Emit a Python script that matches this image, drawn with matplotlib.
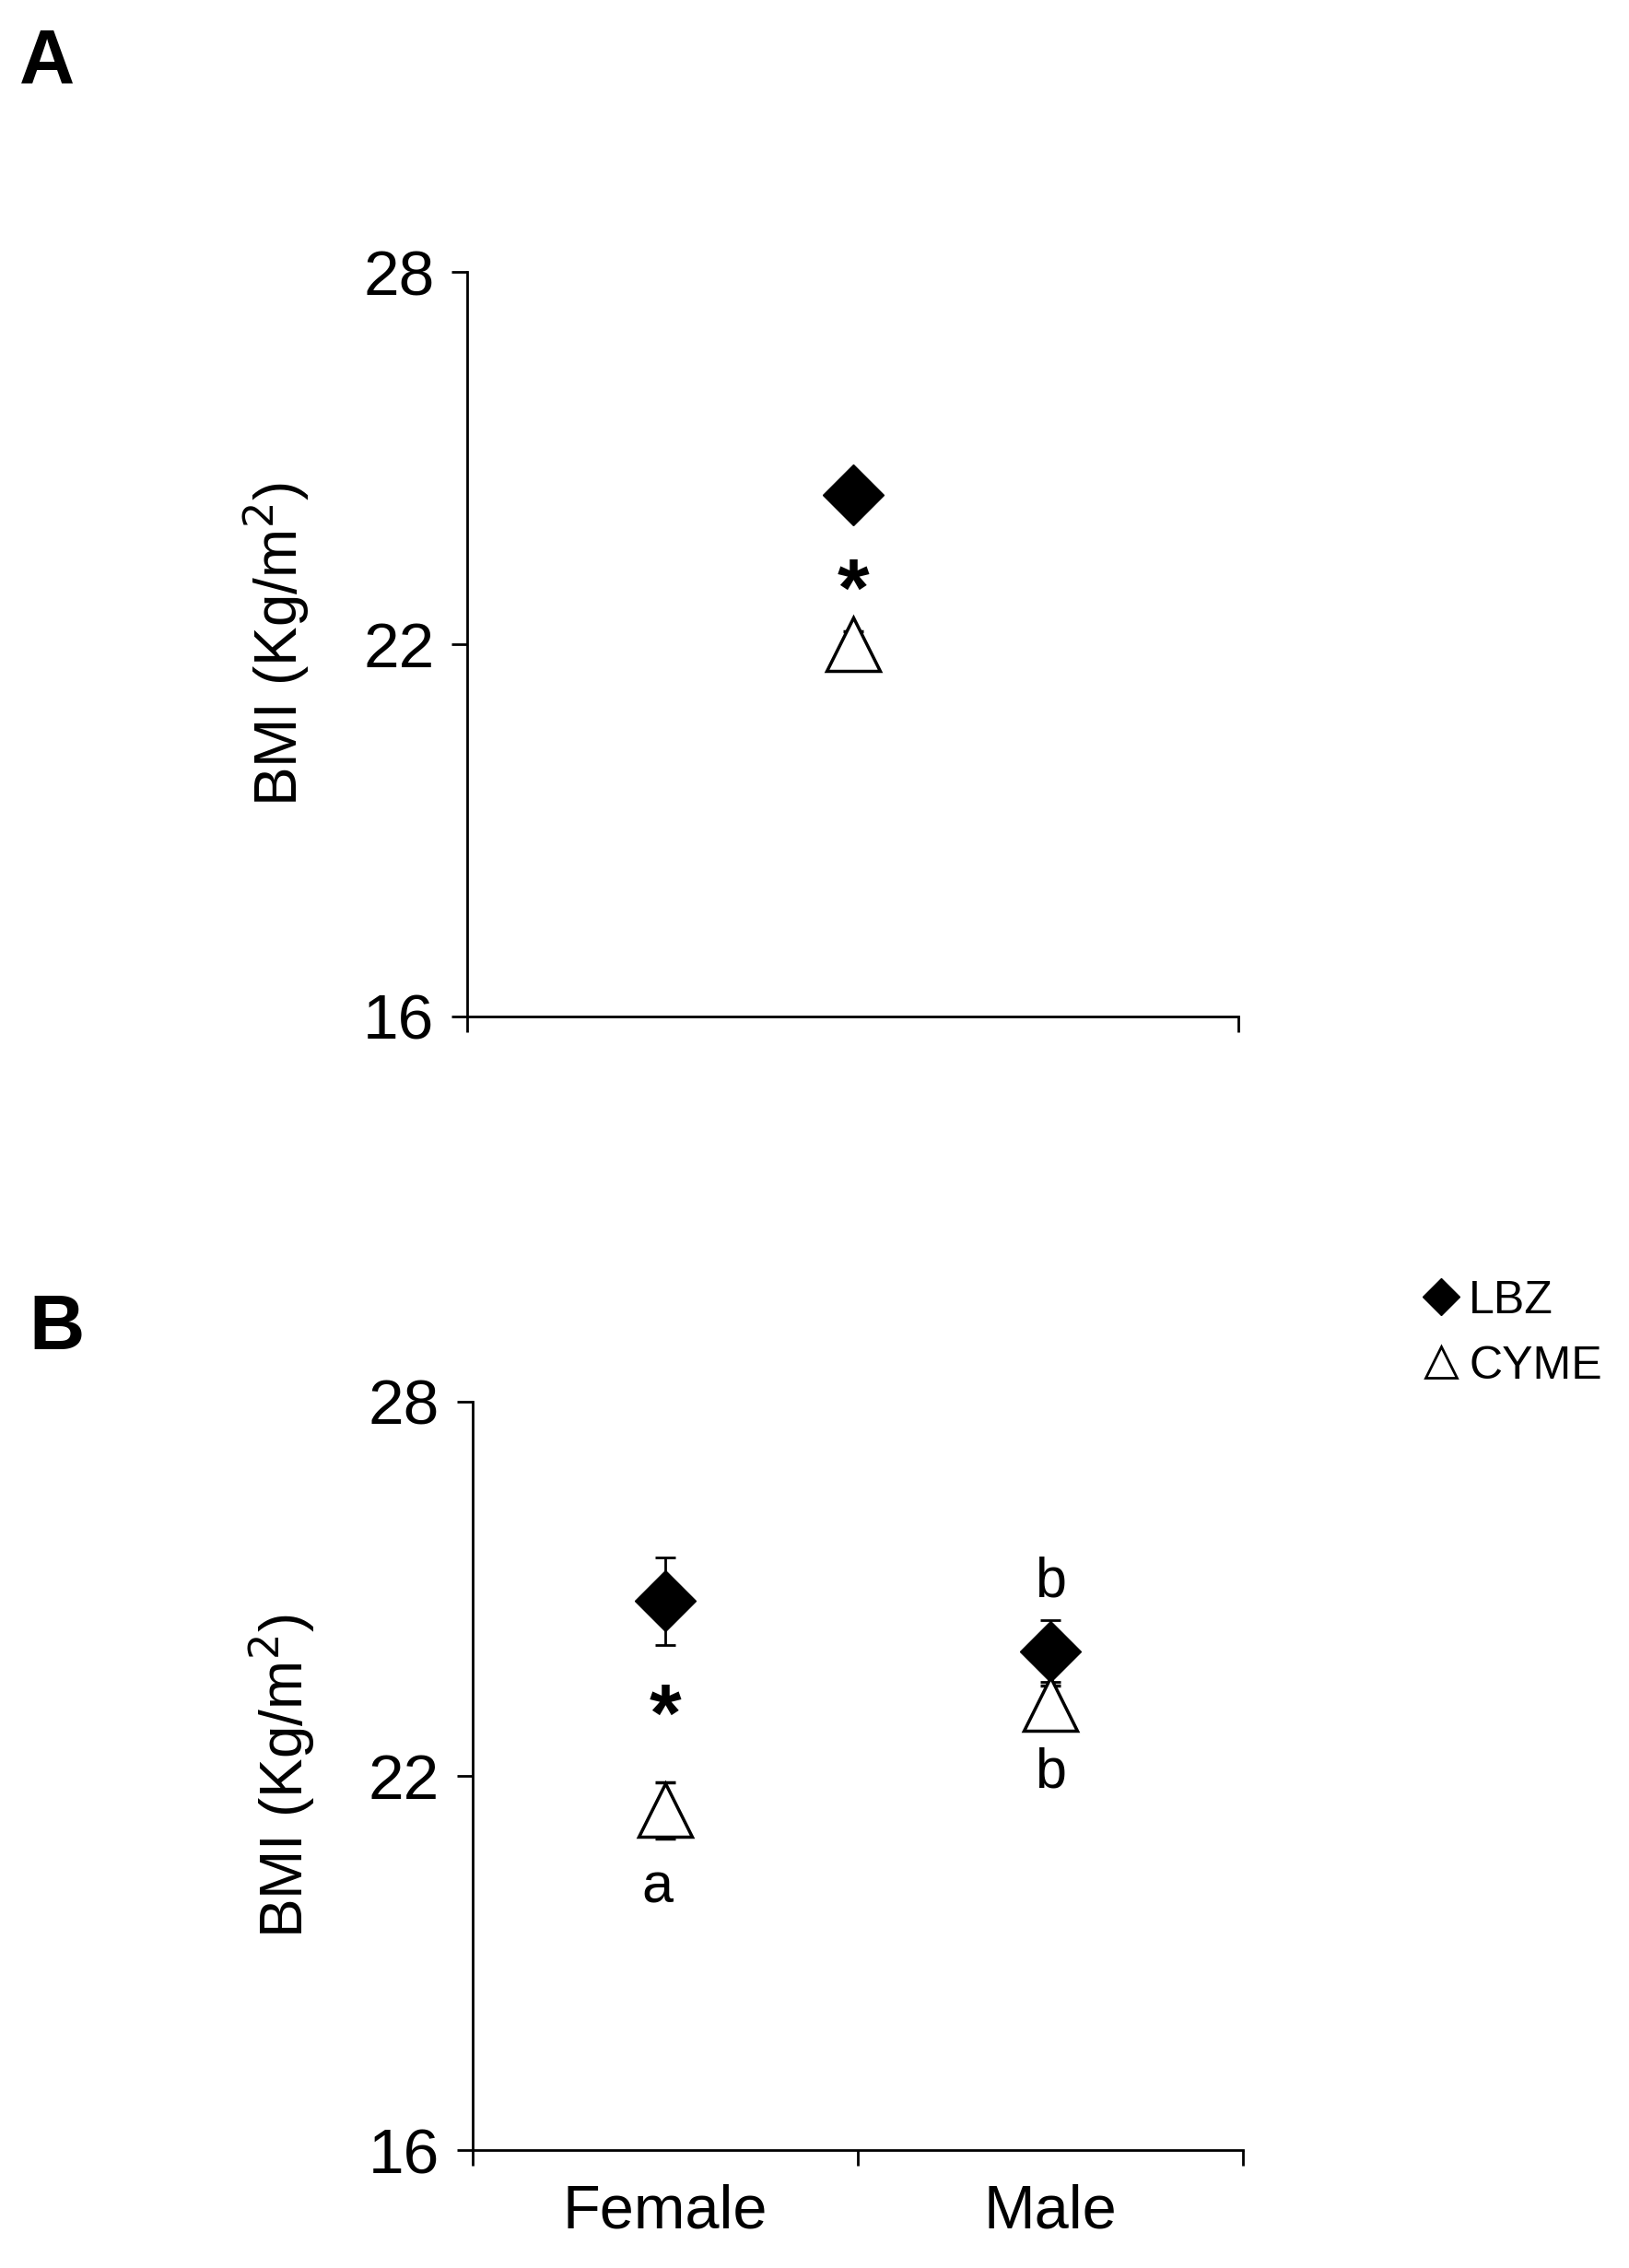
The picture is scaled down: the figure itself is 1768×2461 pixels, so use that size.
import matplotlib
matplotlib.use("Agg")
import matplotlib.pyplot as plt

plt.rcParams['font.family'] = ['Liberation Sans', 'DejaVu Sans']

# Panel A
a_lbz, a_lbz_err = 24.4, 0.25
a_cyme, a_cyme_err = 22.0, 0.2
# Panel B
b_cats = ["Female", "Male"]
b_lbz = [24.8, 24.0]
b_lbz_err = [0.7, 0.5]
b_cyme = [21.45, 23.15]
b_cyme_err = [0.45, 0.3]
yticks = [16, 22, 28]

fig = plt.figure(figsize=(17.68, 24.61), dpi=100)

def style(ax, xt):
    ax.set_ylim(16, 28)
    ax.set_xlim(0, 2)
    ax.set_yticks(yticks)
    ax.set_xticks(xt)
    ax.set_xticklabels([])
    for s in ['top', 'right']:
        ax.spines[s].set_visible(False)
    for s in ['left', 'bottom']:
        ax.spines[s].set_linewidth(2)
    ax.tick_params(axis='y', labelsize=50, length=12, width=2, direction='out', pad=14)
    ax.tick_params(axis='x', length=12, width=2, direction='out')
    ax.set_ylabel("BMI (Kg/m$^2$)", fontsize=46, labelpad=40)

axA = fig.add_axes([0.287, 0.552, 0.473, 0.328])
style(axA, [0, 2])
axA.errorbar([1], [a_lbz], yerr=[a_lbz_err], fmt='D', color='black', ms=34, capsize=8, elinewidth=2, capthick=2)
axA.errorbar([1], [a_cyme], yerr=[a_cyme_err], fmt='^', mfc='white', mec='black', mew=2.5, ms=42, ecolor='black', capsize=8, elinewidth=2, capthick=2)
axA.text(1, 22.8, "*", ha='center', va='center', fontsize=64, fontweight='bold')
fig.text(0.012, 0.972, "A", fontsize=60, fontweight='bold', va='center')

axB = fig.add_axes([0.290, 0.052, 0.473, 0.330])
style(axB, [0, 1, 2])
xs = [0.5, 1.5]
axB.errorbar(xs, b_lbz, yerr=b_lbz_err, fmt='D', color='black', ms=34, capsize=8, elinewidth=2, capthick=2, linestyle='none')
axB.errorbar(xs, b_cyme, yerr=b_cyme_err, fmt='^', mfc='white', mec='black', mew=2.5, ms=42, ecolor='black', capsize=8, elinewidth=2, capthick=2, linestyle='none')
axB.text(0.5, 22.9, "*", ha='center', va='center', fontsize=64, fontweight='bold')
axB.text(0.48, 20.2, "a", ha='center', va='center', fontsize=44)
axB.text(1.5, 25.1, "b", ha='center', va='center', fontsize=44)
axB.text(1.5, 22.05, "b", ha='center', va='center', fontsize=44)
for x, c in zip(xs, b_cats):
    axB.text(x, 15.0, c, ha='center', va='center', fontsize=48)
fig.text(0.018, 0.414, "B", fontsize=60, fontweight='bold', va='center')

fig.legend(handles=[
    plt.Line2D([], [], marker='D', color='black', ls='none', ms=20),
    plt.Line2D([], [], marker='^', mfc='white', mec='black', mew=2, ls='none', ms=24)],
    labels=['LBZ', 'CYME'], loc='upper left', bbox_to_anchor=(0.848, 0.454),
    frameon=False, fontsize=36, handlelength=0.8, handletextpad=0.2, labelspacing=0.5)

fig.savefig("out.png", dpi=100)
